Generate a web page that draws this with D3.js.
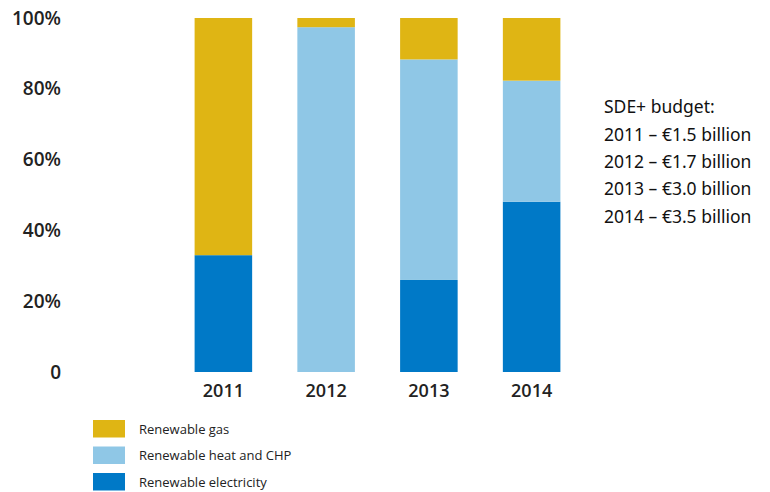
<!DOCTYPE html>
<html><head><meta charset="utf-8">
<script src="https://cdn.jsdelivr.net/npm/d3@7"></script>
<style>body{margin:0;background:#fff}</style>
</head><body>
<svg id="c" width="770" height="492"></svg>
<script>
const years = ["2011","2012","2013","2014"];
const electricity = [33, 0, 26, 48.1];
const heat = [0, 97.4, 62.3, 34.2];
const gas = [67, 2.6, 11.7, 17.7];
const seriesNames = ["Renewable electricity","Renewable heat and CHP","Renewable gas"];
const seriesColors = ["#0079C7","#8FC7E6","#DFB514"];
const yTicks = [0,20,40,60,80,100];
const yTickLabels = ["0","20%","40%","60%","80%","100%"];
const budgetTitle = "SDE+ budget:";
const budgetLines = ["2011 – €1.5 billion","2012 – €1.7 billion","2013 – €3.0 billion","2014 – €3.5 billion"];

const svg = d3.select("#c");
const table = years.map((y,i)=>({year:y, e:electricity[i], h:heat[i], g:gas[i]}));
const stack = d3.stack().keys(["e","h","g"])(table);

const x = d3.scaleBand().domain(years).range([172, 583]).paddingInner(0.44).paddingOuter(0.22);
const y = d3.scaleLinear().domain([0,100]).range([372,18]);

svg.append("g").selectAll("g").data(stack).join("g")
  .attr("fill",(d,i)=>seriesColors[i])
  .selectAll("rect").data(d=>d).join("rect")
  .attr("x",d=>x(d.data.year)).attr("width",x.bandwidth())
  .attr("y",d=>y(d[1])).attr("height",d=>y(d[0])-y(d[1]));

const font = "'Open Sans', sans-serif";
const yAxis = d3.axisLeft(y).tickValues(yTicks).tickFormat((d,i)=>yTickLabels[i]).tickSize(0).tickPadding(0);
const ga = svg.append("g").attr("transform","translate(61,0)").call(yAxis);
ga.select(".domain").remove();
ga.selectAll("text").attr("font-family",font).attr("font-size",19).attr("font-weight",600).attr("fill","#222");

const xAxis = d3.axisBottom(x).tickSize(0).tickPadding(0);
const gx = svg.append("g").attr("transform","translate(0,383)").call(xAxis);
gx.select(".domain").remove();
gx.selectAll("text").attr("font-family",font).attr("font-size",18).attr("font-weight",600).attr("fill","#222").attr("dy","0.75em");

// legend (top to bottom: gas, heat, electricity)
const legendOrder = [2,1,0];
const lg = svg.append("g");
legendOrder.forEach((si,k)=>{
  const yy = 420 + k*26.5;
  lg.append("rect").attr("x",93).attr("y",yy).attr("width",32).attr("height",17.5).attr("fill",seriesColors[si]);
  lg.append("text").attr("x",139).attr("y",yy+9).attr("dy","0.35em")
    .attr("font-family",font).attr("font-size",13).attr("fill","#222").text(seriesNames[si]);
});

const tg = svg.append("g").attr("font-family","'Noto Sans', sans-serif").attr("font-size",17.5).attr("fill","#111");
[budgetTitle].concat(budgetLines).forEach((t,i)=>{
  tg.append("text").attr("x",604).attr("y",107 + i*27.4).attr("dy","0.35em").text(t);
});
</script>
</body></html>
